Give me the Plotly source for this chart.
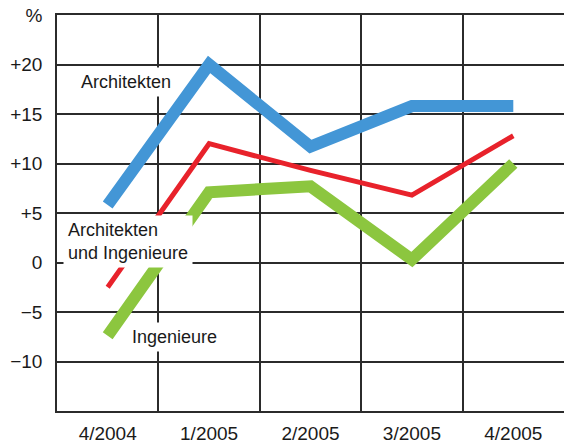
import plotly.graph_objects as go

categories = ["4/2004", "1/2005", "2/2005", "3/2005", "4/2005"]
architekten = [5.8, 20.0, 11.7, 15.8, 15.8]
arch_ing = [-2.5, 12.0, 9.3, 6.8, 12.8]
ingenieure = [-7.4, 7.1, 7.7, 0.3, 10.0]

y_tickvals = [-10, -5, 0, 5, 10, 15, 20, 25]
y_ticktext = ["\u221210", "\u22125", "0", "+5", "+10", "+15", "+20", "%"]

FONT = "Liberation Sans, Arial, Helvetica, sans-serif"
GRID = "#2b2b2b"

fig = go.Figure()
fig.add_trace(go.Scatter(x=categories, y=architekten, mode="lines",
                         line=dict(color="#4396d6", width=12), name="Architekten"))
fig.add_trace(go.Scatter(x=categories, y=arch_ing, mode="lines",
                         line=dict(color="#e8222b", width=5), name="Architekten und Ingenieure"))
fig.add_trace(go.Scatter(x=categories, y=ingenieure, mode="lines",
                         line=dict(color="#8cc63f", width=12), name="Ingenieure"))

ann_font = dict(family=FONT, size=18, color="#1a1a1a")
common = dict(xref="paper", yref="paper", xanchor="center", yanchor="middle",
              showarrow=False, bgcolor="white", borderpad=4, font=ann_font)
fig.add_annotation(x=0.137, y=0.831, text="Architekten", **common)
fig.add_annotation(x=0.141, y=0.427, text="Architekten<br>und Ingenieure",
                   align="left", **common)
fig.add_annotation(x=0.231, y=0.187, text="Ingenieure", **common)

fig.update_layout(
    width=564, height=446,
    margin=dict(l=57, r=0, t=15, b=35),
    paper_bgcolor="white", plot_bgcolor="white",
    showlegend=False,
    font=dict(family=FONT, size=19, color="#1a1a1a"),
)
fig.update_xaxes(type="category", tickson="boundaries", showgrid=True,
                 gridcolor=GRID, gridwidth=1.5, showline=True, linecolor=GRID,
                 linewidth=1.5, mirror=True, ticks="", ticklabelstandoff=4,
                 tickfont=dict(family=FONT, size=19, color="#1a1a1a"),
                 range=[-0.5, 4.5], zeroline=False, automargin=False)
fig.update_yaxes(range=[-15, 25], tickvals=y_tickvals, ticktext=y_ticktext,
                 showgrid=True, gridcolor=GRID, gridwidth=1.5, showline=True,
                 linecolor=GRID, linewidth=1.5, ticks="", ticklabelstandoff=9,
                 tickfont=dict(family=FONT, size=19, color="#1a1a1a"),
                 zeroline=False, automargin=False)

fig.write_html(
    "out.html",
    config={"responsive": False, "displayModeBar": False},
    post_script="document.body.style.margin='0';document.body.style.overflow='hidden';",
)
